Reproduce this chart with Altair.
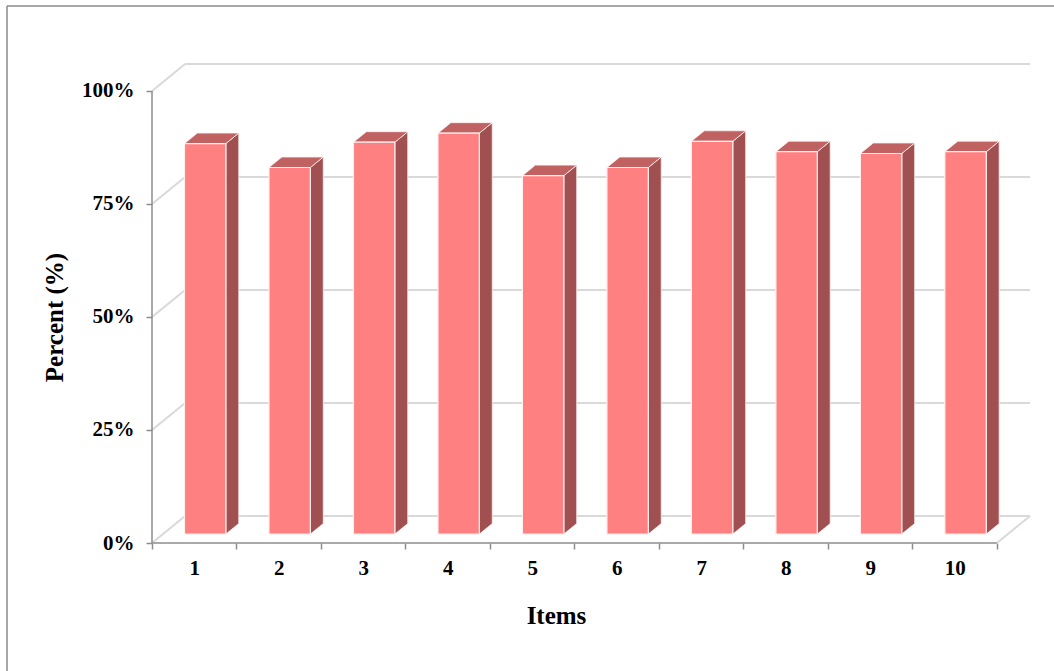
import json

import altair as alt
import pandas as pd

# ---- data -------------------------------------------------------------
items = ["1", "2", "3", "4", "5", "6", "7", "8", "9", "10"]
percent = [86.4, 81.1, 86.7, 88.7, 79.3, 81.1, 86.9, 84.6, 84.2, 84.6]
y_ticks = [0, 25, 50, 75, 100]

# ---- pseudo-3D box geometry (data units) -------------------------------
DEPTH_X = 0.392     # depth of the box along x, in category widths
DEPTH_Y = 5.97      # depth of the box along y, in percent
BAR_FRONT = 0.33    # depth fraction of a column's front face
BAR_BACK = 0.72     # depth fraction of a column's back face
BAR_LEFT, BAR_RIGHT = 0.255, 0.745   # column extent within its category
N = len(items)

W, H = 878, 479
FONT = "Liberation Serif"
GRID = "#d9d9d9"
AXIS = "#8c8c8c"
FRONT_COLOR = "#ff8080"
SIDE_COLOR = "#a05050"
TOP_COLOR = "#c06262"
EDGE = "#fff0f0"

x_scale = alt.Scale(domain=[0, N + DEPTH_X], nice=False, zero=False)
y_scale = alt.Scale(domain=[0, 100 + DEPTH_Y], nice=False, zero=False)
px_per_cat = W / (N + DEPTH_X)

label_expr = f"{json.dumps(items)}[datum.value] || ''"

x_axis = alt.Axis(
    values=list(range(N + 1)),
    labelExpr=label_expr,
    labelOffset=px_per_cat / 2,
    labelFlush=False,
    labelFont=FONT,
    labelFontSize=21,
    labelFontWeight="bold",
    labelColor="black",
    labelPadding=8,
    labelOverlap=False,
    domain=False,
    grid=False,
    ticks=True,
    tickSize=6,
    tickColor=AXIS,
    tickWidth=1.5,
    titleFont=FONT,
    titleFontSize=25,
    titleFontWeight="bold",
    titleColor="black",
    titleX=404,
    titleY=80,
    titleBaseline="alphabetic",
)

y_axis = alt.Axis(
    values=y_ticks,
    labelExpr="datum.value + '%'",
    labelFont=FONT,
    labelFontSize=21,
    labelFontWeight="bold",
    labelColor="black",
    labelPadding=12,
    labelFlush=False,
    domain=False,
    grid=False,
    ticks=True,
    tickSize=6,
    tickColor=AXIS,
    tickWidth=1.5,
    titleFont=FONT,
    titleFontSize=25,
    titleFontWeight="bold",
    titleColor="black",
    titleX=-90,
    titleY=253,
    titleAngle=270,
    titleAlign="center",
    titleBaseline="alphabetic",
)


def X(field, **kw):
    return alt.X(field, scale=x_scale, axis=x_axis, title="Items", **kw)


def Y(field, **kw):
    return alt.Y(field, scale=y_scale, axis=y_axis, title="Percent (%)", **kw)


bars = pd.DataFrame({"idx": list(range(N)), "item": items, "value": percent})

# two depth slices per column for the side and top faces
faces = pd.DataFrame(
    [{"idx": i, "value": v, "f": f} for i, v in enumerate(percent) for f in (BAR_FRONT, BAR_BACK)]
)

walls = pd.DataFrame({"level": y_ticks})

# ---- walls and floor --------------------------------------------------
back_grid = alt.Chart(walls).transform_calculate(
    x0=f"{DEPTH_X}", x1=f"{N + DEPTH_X}", yy=f"datum.level + {DEPTH_Y}"
).mark_rule(color=GRID, strokeWidth=2).encode(
    x=X("x0:Q"),
    x2="x1:Q",
    y=Y("yy:Q"),
)

side_grid = alt.Chart(walls).transform_calculate(
    x0="0", x1=f"{DEPTH_X}", y0="datum.level", y1=f"datum.level + {DEPTH_Y}"
).mark_rule(color=GRID, strokeWidth=2).encode(
    x=X("x0:Q"),
    x2="x1:Q",
    y=Y("y0:Q"),
    y2="y1:Q",
)

floor_edge = alt.Chart(
    pd.DataFrame({"x0": [N], "x1": [N + DEPTH_X], "y0": [0], "y1": [DEPTH_Y]})
).mark_rule(color=GRID, strokeWidth=2).encode(
    x=X("x0:Q"),
    x2="x1:Q",
    y=Y("y0:Q"),
    y2="y1:Q",
)

# ---- front axis lines --------------------------------------------------
axis_lines = alt.Chart(
    pd.DataFrame({"x0": [0, 0], "x1": [0, N], "y0": [0, 0], "y1": [100, 0]})
).mark_rule(color=AXIS, strokeWidth=1.5).encode(
    x=X("x0:Q"),
    x2="x1:Q",
    y=Y("y0:Q"),
    y2="y1:Q",
)

# ---- 3D columns --------------------------------------------------------
front = alt.Chart(bars).transform_calculate(
    x0=f"datum.idx + {BAR_LEFT} + {BAR_FRONT * DEPTH_X}",
    x1=f"datum.idx + {BAR_RIGHT} + {BAR_FRONT * DEPTH_X}",
    y0=f"{BAR_FRONT * DEPTH_Y}",
    y1=f"datum.value + {BAR_FRONT * DEPTH_Y}",
).mark_rect(color=FRONT_COLOR, stroke=EDGE, strokeWidth=1.2).encode(
    x=X("x0:Q"),
    x2="x1:Q",
    y=Y("y0:Q"),
    y2="y1:Q",
)

side = alt.Chart(faces).transform_calculate(
    sx=f"datum.idx + {BAR_RIGHT} + datum.f * {DEPTH_X}",
    sy0=f"datum.f * {DEPTH_Y}",
    sy1=f"datum.value + datum.f * {DEPTH_Y}",
).mark_area(color=SIDE_COLOR, stroke=EDGE, strokeWidth=1, strokeOpacity=0.8, orient="vertical").encode(
    x=X("sx:Q"),
    y=Y("sy1:Q", stack=None),
    y2="sy0:Q",
    detail="idx:N",
)

top = alt.Chart(faces).transform_calculate(
    tx0=f"datum.idx + {BAR_LEFT} + datum.f * {DEPTH_X}",
    tx1=f"datum.idx + {BAR_RIGHT} + datum.f * {DEPTH_X}",
    ty=f"datum.value + datum.f * {DEPTH_Y}",
).mark_area(color=TOP_COLOR, stroke=EDGE, strokeWidth=1, strokeOpacity=0.8, orient="horizontal").encode(
    y=Y("ty:Q"),
    x=X("tx0:Q", stack=None),
    x2="tx1:Q",
    detail="idx:N",
)

# ---- outer frame (left and top edges) ----------------------------------
frame_src = pd.DataFrame({"k": [0]})
frame_left = alt.Chart(frame_src).mark_rule(color="#8a8a8a", strokeWidth=1.5).encode(
    x=alt.value(-145), y=alt.value(-58), y2=alt.value(620)
)
frame_top = alt.Chart(frame_src).mark_rule(color="#8a8a8a", strokeWidth=1.5).encode(
    x=alt.value(-145), x2=alt.value(920), y=alt.value(-58)
)

chart = (
    alt.layer(
        back_grid, side_grid, floor_edge, axis_lines, side, top, front, frame_left, frame_top
    )
    .properties(
        width=W,
        height=H,
        padding={"left": 152, "top": 64, "right": 24, "bottom": 128},
        autosize=alt.AutoSizeParams(type="none"),
        background="white",
    )
    .configure_view(stroke=None)
)

chart.save("out.html", embed_options={"renderer": "svg", "actions": False})
